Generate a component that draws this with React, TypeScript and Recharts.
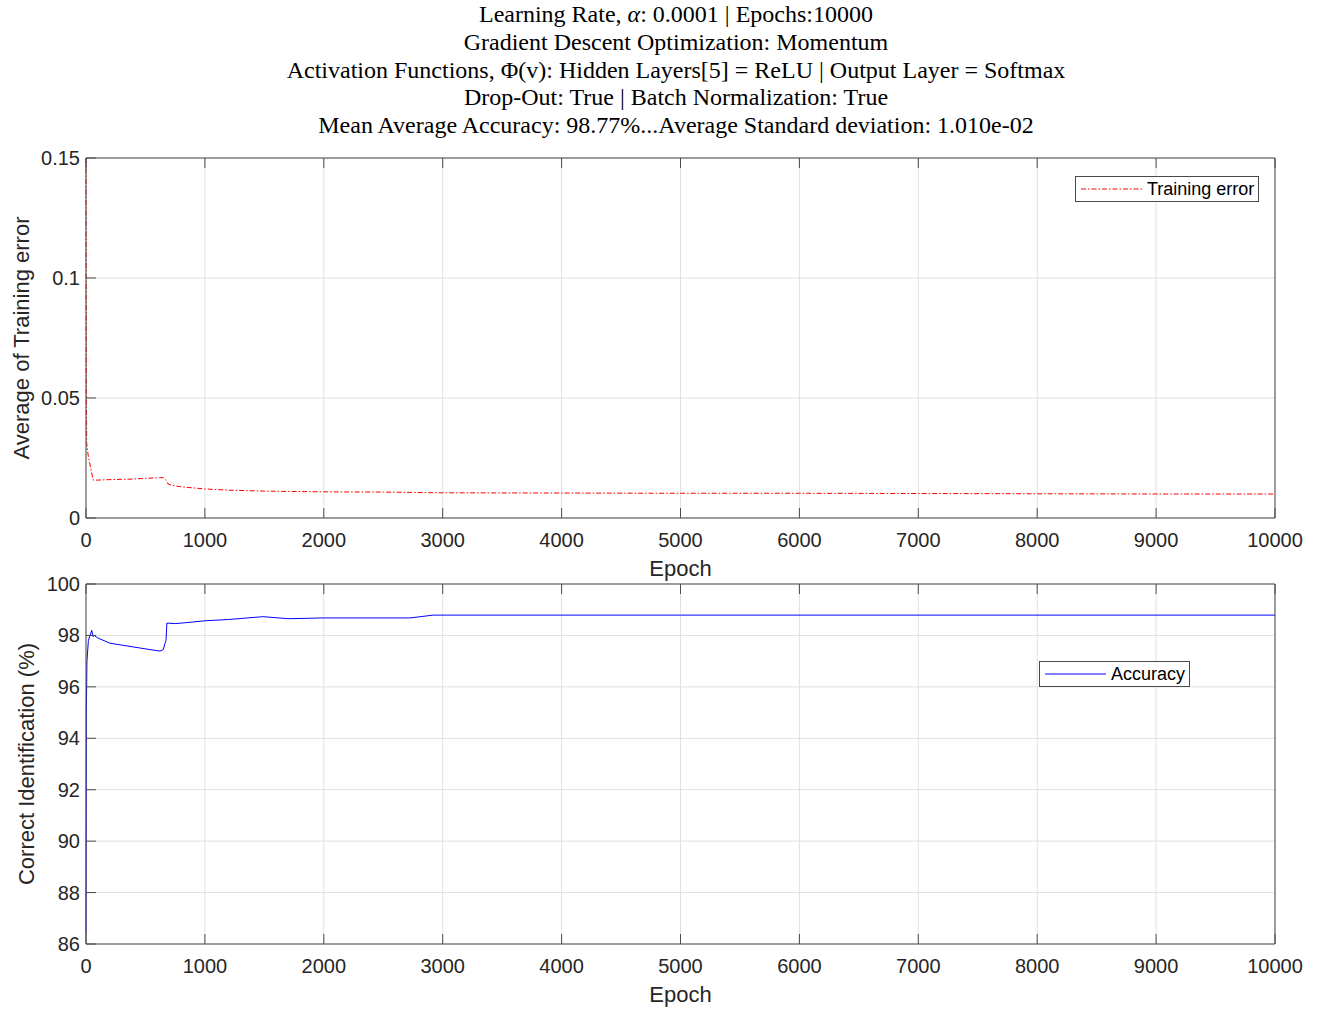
import React from "react";
import { LineChart, Line, XAxis, YAxis, CartesianGrid, Legend, Label } from "recharts";

// ---- training error (average over runs) ----
const errorEpochs = [0, 3, 6, 20, 60, 100, 200, 370, 500, 620, 650, 670, 690, 720, 800, 1000, 1200, 1500, 2000, 2500, 3000, 4000, 5000, 6000, 7000, 8000, 9000, 10000];
const errorValues = [0.15, 0.05, 0.031, 0.0255, 0.0158, 0.0158, 0.016, 0.0162, 0.0165, 0.0168, 0.0168, 0.016, 0.0142, 0.0136, 0.013, 0.0121, 0.0116, 0.0112, 0.0109, 0.0108, 0.0105, 0.0104, 0.0103, 0.0103, 0.0102, 0.0101, 0.01, 0.01];

// ---- identification accuracy (%) ----
const accEpochs = [0, 3, 8, 20, 48, 60, 70, 100, 200, 400, 622, 650, 665, 673, 680, 750, 850, 1000, 1200, 1490, 1700, 2000, 2725, 2920, 3500, 5000, 10000];
const accValues = [86.4, 95, 97.0, 97.8, 98.2, 97.95, 98.0, 97.9, 97.7, 97.55, 97.39, 97.45, 97.7, 97.8, 98.48, 98.46, 98.5, 98.57, 98.62, 98.73, 98.65, 98.68, 98.68, 98.79, 98.79, 98.79, 98.79];

const epochTicks = [0, 1000, 2000, 3000, 4000, 5000, 6000, 7000, 8000, 9000, 10000];
const errorTicks = [0, 0.05, 0.1, 0.15];
const accTicks = [86, 88, 90, 92, 94, 96, 98, 100];

const titleLines = [
  "Learning Rate, |α|: 0.0001 | Epochs:10000",
  "Gradient Descent Optimization: Momentum",
  "Activation Functions, Φ(v): Hidden Layers[5] = ReLU | Output Layer = Softmax",
  "Drop-Out: True | Batch Normalization: True",
  "Mean Average Accuracy: 98.77%...Average Standard deviation: 1.010e-02",
];

const errorData = errorEpochs.map((e, i) => ({ epoch: e, error: errorValues[i] }));
const accData = accEpochs.map((e, i) => ({ epoch: e, accuracy: accValues[i] }));

const SANS = "'Liberation Sans', Arial, Helvetica, sans-serif";
const SERIF = "'Liberation Serif', 'Times New Roman', serif";
const FRAME = "#4a4a4a";
const GRID = "#e0e0e0";
const TICK = 10;
const TICK_FONT = 20;

// tick renderers draw an inward tick mark plus (optionally) the label
const BottomTick = (props: any) => {
  const { x, y, payload } = props;
  return (
    <g>
      <line x1={x} x2={x} y1={y} y2={y - TICK} stroke={FRAME} strokeWidth={1} />
      <text x={x} y={y + 29} textAnchor="middle" fontFamily={SANS} fontSize={TICK_FONT} fill="#262626">
        {payload.value}
      </text>
    </g>
  );
};
const TopTick = (props: any) => {
  const { x, y } = props;
  return <line x1={x} x2={x} y1={y} y2={y + TICK} stroke={FRAME} strokeWidth={1} />;
};
const LeftTick = (props: any) => {
  const { x, y, payload } = props;
  return (
    <g>
      <line x1={x} x2={x + TICK} y1={y} y2={y} stroke={FRAME} strokeWidth={1} />
      <text x={x - 6} y={y + 7} textAnchor="end" fontFamily={SANS} fontSize={TICK_FONT} fill="#262626">
        {payload.value}
      </text>
    </g>
  );
};
const RightTick = (props: any) => {
  const { x, y } = props;
  return <line x1={x} x2={x - TICK} y1={y} y2={y} stroke={FRAME} strokeWidth={1} />;
};

const xLabel = (text: string) => (p: any) => {
  const vb = p.viewBox;
  return (
    <text x={vb.x + vb.width / 2} y={vb.y + 58} textAnchor="middle" fontFamily={SANS} fontSize={22} fill="#262626">
      {text}
    </text>
  );
};
const yLabel = (text: string, cx: number) => (p: any) => {
  const vb = p.viewBox;
  const cy = vb.y + vb.height / 2;
  return (
    <text x={cx} y={cy} transform={`rotate(-90, ${cx}, ${cy})`} dy={8} textAnchor="middle" fontFamily={SANS} fontSize={22} fill="#262626">
      {text}
    </text>
  );
};

const legendBox = (label: string, color: string, dash?: string, w = 184) => () => (
  <div
    style={{
      width: w,
      height: 26,
      boxSizing: "border-box",
      border: `1px solid ${FRAME}`,
      background: "#fff",
      display: "flex",
      alignItems: "center",
      fontFamily: SANS,
      fontSize: 18,
      color: "#000",
    }}
  >
    <svg width={66} height={24} style={{ display: "block" }}>
      <line x1={5} x2={66} y1={12} y2={12} stroke={color} strokeWidth={1} strokeDasharray={dash} />
    </svg>
    <span style={{ marginLeft: 5, whiteSpace: "nowrap" }}>{label}</span>
  </div>
);

const renderTitleLine = (line: string) => {
  const parts = line.split("|α|");
  if (parts.length === 1) return line;
  return (
    <>
      {parts[0]}
      <i>α</i>
      {parts[1]}
    </>
  );
};

type PanelProps = {
  data: any[];
  dataKey: string;
  name: string;
  color: string;
  dash?: string;
  yDomain: [number, number];
  yTicks: number[];
  yTitle: string;
  yTitleX: number;
  top: number;
  bottom: number;
  legendPos: { left: number; top: number; width: number };
};

// one boxed panel: labelled bottom/left axes, tick-only top/right axes
const Panel = (p: PanelProps) => (
  <div style={{ position: "absolute", left: 0, top: 0 }}>
    <LineChart width={1322} height={p.bottom + 66} data={p.data} margin={{ top: p.top - 1, right: 46, left: 0, bottom: 0 }}>
      <CartesianGrid xAxisId="b" yAxisId="l" stroke={GRID} strokeWidth={1} horizontalValues={p.yTicks} verticalValues={epochTicks} />
      <XAxis xAxisId="b" dataKey="epoch" type="number" domain={[0, 10000]} ticks={epochTicks} height={66}
        axisLine={{ stroke: FRAME }} tickLine={false} tickSize={0} tickMargin={0} tick={<BottomTick />} interval={0}>
        <Label content={xLabel("Epoch")} />
      </XAxis>
      <XAxis xAxisId="t" orientation="top" dataKey="epoch" type="number" domain={[0, 10000]} ticks={epochTicks} height={1}
        axisLine={{ stroke: FRAME }} tickLine={false} tickSize={0} tickMargin={0} tick={<TopTick />} interval={0} />
      <YAxis yAxisId="l" type="number" domain={p.yDomain} ticks={p.yTicks} width={86} allowDataOverflow
        axisLine={{ stroke: FRAME }} tickLine={false} tickSize={0} tickMargin={0} tick={<LeftTick />} interval={0}>
        <Label content={yLabel(p.yTitle, p.yTitleX)} />
      </YAxis>
      <YAxis yAxisId="r" orientation="right" type="number" domain={p.yDomain} ticks={p.yTicks} width={1}
        axisLine={{ stroke: FRAME }} tickLine={false} tickSize={0} tickMargin={0} tick={<RightTick />} interval={0} />
      <Line xAxisId="b" yAxisId="l" type="linear" dataKey={p.dataKey} name={p.name} stroke={p.color} strokeWidth={1}
        strokeDasharray={p.dash} dot={false} activeDot={false} isAnimationActive={false} />
      <Legend layout="horizontal" verticalAlign="middle" align="center"
        wrapperStyle={{ position: "absolute", left: p.legendPos.left, top: p.legendPos.top, width: "auto", height: "auto" }}
        content={legendBox(p.name, p.color, p.dash, p.legendPos.width)} />
    </LineChart>
  </div>
);

export default function App() {
  return (
    <div style={{ position: "absolute", left: 0, top: 0, width: 1322, height: 1010, background: "#fff" }}>
      <div style={{ position: "absolute", left: 0, top: 1, width: 1352, textAlign: "center", fontFamily: SERIF, fontSize: 24, color: "#000", lineHeight: "27.75px" }}>
        {titleLines.map((l, i) => (
          <div key={i} style={{ whiteSpace: "nowrap" }}>{renderTitleLine(l)}</div>
        ))}
      </div>

      <Panel data={errorData} dataKey="error" name="Training error" color="#ff0000" dash="5 2 1.5 2"
        yDomain={[0, 0.15]} yTicks={errorTicks} yTitle="Average of Training error" yTitleX={21}
        top={158} bottom={518} legendPos={{ left: 1075, top: 176, width: 184 }} />

      <Panel data={accData} dataKey="accuracy" name="Accuracy" color="#0000ff"
        yDomain={[86, 100]} yTicks={accTicks} yTitle="Correct Identification (%)" yTitleX={26}
        top={584} bottom={944} legendPos={{ left: 1039, top: 661, width: 151 }} />
    </div>
  );
}
